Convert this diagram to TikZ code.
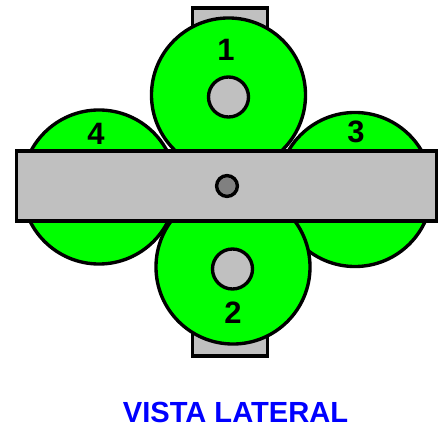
\documentclass[tikz,border=0pt]{standalone}
\usepackage{xcolor}
\usepackage{fontspec}
\setmainfont{Liberation Sans}
\usetikzlibrary{positioning}
\definecolor{wheelgreen}{RGB}{0, 255, 0}
\definecolor{plategray}{RGB}{192, 192, 192}
\definecolor{pingray}{RGB}{128, 128, 128}
\definecolor{titleblue}{RGB}{0, 0, 255}

\begin{document}
\begin{tikzpicture}[
  x=0.025cm, y=-0.025cm,
  wheel/.style={draw=black, fill=wheelgreen, circle, line width=2.4pt, minimum size=3.85cm, inner sep=0pt},
  hub/.style={draw=black, fill=plategray, circle, line width=2.4pt, minimum size=1cm, inner sep=0pt},
  pin/.style={draw=black, fill=pingray, circle, line width=2.4pt, minimum size=0.52cm, inner sep=0pt},
  plate/.style={draw=black, fill=plategray, line width=2.4pt, inner sep=0pt},
  number/.style={font=\fontsize{22}{24}\selectfont\bfseries, text=black, inner sep=0pt}
]
  \useasboundingbox (0, 0) rectangle (441, 426);

  % Tabs
  \node[plate, minimum width=1.87cm, minimum height=1cm] (tabtop) at (230, 28) {};
  \node[plate, minimum width=1.87cm, minimum height=1cm] (tabbot) at (230, 336) {};

  % Wheels
  \node[wheel] (wheel4) at (99, 187) {};
  \node[wheel] (wheel3) at (355, 189.5) {};
  \node[wheel] (wheel1) at (228.5, 95) {};
  \node[wheel] (wheel2) at (233, 267) {};

  % Bar
  \node[plate, minimum width=10.5cm, minimum height=1.75cm] (bar) at (226.5, 186) {};

  % Hubs
  \node[hub] (hub1) at (228.5, 97) {};
  \node[hub] (hub2) at (232.5, 269) {};
  \node[pin] (pin) at (227, 186) {};

  % Numbers
  \node[number] (num1) at (226, 50) {1};
  \node[number] (num2) at (233, 313) {2};
  \node[number] (num3) at (356, 132) {3};
  \node[number] (num4) at (96, 134) {4};

  % Title
  \node[font=\fontsize{20.7}{22}\selectfont\bfseries, text=titleblue, inner sep=0pt] (title) at (235.5, 412) {VISTA LATERAL};
\end{tikzpicture}
\end{document}
